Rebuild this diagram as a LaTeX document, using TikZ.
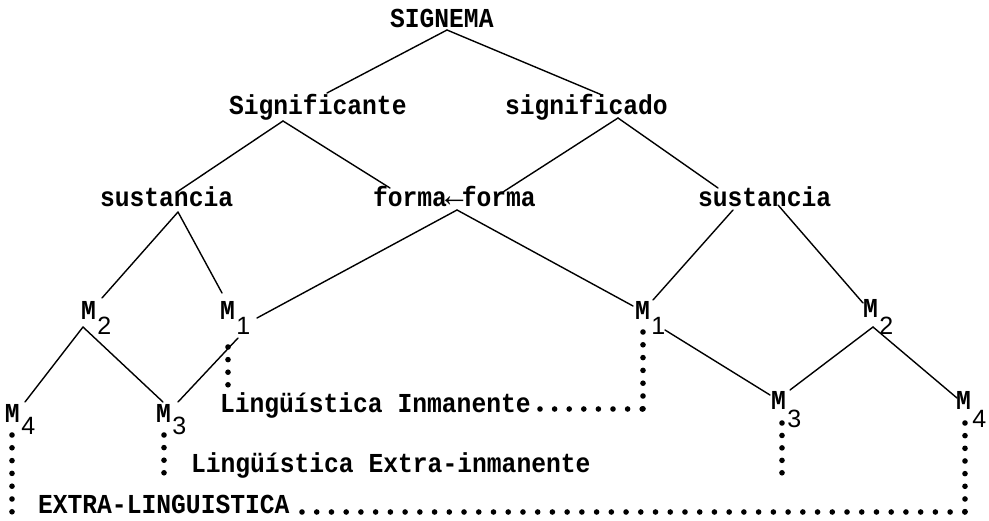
\documentclass[tikz,border=0pt]{standalone}
\usepackage{fontspec}
\newfontfamily\twfont{Liberation Mono}[FakeStretch=0.9]
\newfontfamily\digfont{Liberation Sans}
\usetikzlibrary{calc}

% an M followed by a lowered index digit, typewriter fashion
\newcommand\msub[2]{M\kern1.5pt\raisebox{-#2pt}{\digfont\mdseries\fontsize{25}{28}\selectfont #1}}
% the struck-over arrow between the two "forma"
\newcommand\overarrow{\makebox[14.8pt]{\fontsize{34}{34}\selectfont ←}}

\tikzset{
  txt/.style={font=\twfont\bfseries\fontsize{27.4}{30}\selectfont,
              inner sep=0pt, outer sep=0pt, anchor=base west},
  branch/.style={line width=1.4pt, line cap=round},
  typedots/.style={line width=5.6pt, line cap=round, dash pattern=on 0pt off #1},
}

\begin{document}
\begin{tikzpicture}[x=1pt,y=-1pt]
\fill[white] (0,0) rectangle (989,521);
\useasboundingbox (0,0) rectangle (989,521);

% ---- labels ----
\node[txt] (signema)  at (390,28)  {SIGNEMA};
\node[txt] (signifte) at (229,115) {Significante};
\node[txt] (signifdo) at (505,115) {significado};
\node[txt] (sustL)    at (100,207) {sustancia};
\node[txt] (forma)    at (373,207) {forma\overarrow forma};
\node[txt] (sustR)    at (698,207) {sustancia};

\node[txt] (m2L) at (81,320)  {\msub{2}{15}};
\node[txt] (m1L) at (220,320) {\msub{1}{15}};
\node[txt] (m1R) at (635,320) {\msub{1}{15}};
\node[txt] (m2R) at (863,318) {\msub{2}{17}};
\node[txt] (m4L) at (5,423)   {\msub{4}{12}};
\node[txt] (m3L) at (156,423) {\msub{3}{12}};
\node[txt] (m3R) at (771,410) {\msub{3}{18}};
\node[txt] (m4R) at (956,410) {\msub{4}{18}};

\node[txt] (inman)   at (220,413) {Lingüística Inmanente};
\node[txt] (extra)   at (191,472) {Lingüística Extra-inmanente};
\node[txt] (extling) at (38,513)  {EXTRA-LINGUISTICA};

% ---- tree branches ----
\draw[branch] ($(signema.base west)+(57,2)$) -- ($(signifte.base west)+(98,-22)$);
\draw[branch] ($(signema.base west)+(57,2)$) -- ($(signifdo.base west)+(97,-20)$);

\draw[branch] ($(signifte.base west)+(54,6)$) -- ($(sustL.base west)+(77,-15)$);
\draw[branch] ($(signifte.base west)+(54,6)$) -- ($(forma.base west)+(17,-19)$);

\draw[branch] ($(signifdo.base west)+(113,3)$) -- ($(forma.base west)+(130,-15)$);
\draw[branch] ($(signifdo.base west)+(113,3)$) -- ($(sustR.base west)+(20,-19)$);

\draw[branch] ($(sustL.base west)+(78,5)$) -- ($(m2L.base west)+(21,-22)$);
\draw[branch] ($(sustL.base west)+(78,5)$) -- ($(m1L.base west)+(2,-27)$);

\draw[branch] ($(forma.base west)+(84,3)$) -- ($(m1L.base west)+(37,-2)$);
\draw[branch] ($(forma.base west)+(84,3)$) -- ($(m1R.base west)+(-2,-14)$);

\draw[branch] ($(sustR.base west)+(35,3)$) -- ($(m1R.base west)+(18,-20)$);
\draw[branch] ($(sustR.base west)+(80,-2)$) -- ($(m2R.base west)+(0,-15)$);

\draw[branch] ($(m2L.base west)+(2,7)$) -- ($(m4L.base west)+(20,-21)$);
\draw[branch] ($(m2L.base west)+(2,7)$) -- ($(m3L.base west)+(7,-21)$);
\draw[branch] ($(m3L.base west)+(22,-21)$) -- ($(m1L.base west)+(18,18)$);

\draw[branch] ($(m1R.base west)+(30,10)$) -- ($(m3R.base west)+(-1,-15)$);
\draw[branch] ($(m2R.base west)+(10,9)$) -- ($(m3R.base west)+(19,-20)$);
\draw[branch] ($(m2R.base west)+(10,9)$) -- ($(m4R.base west)+(1,-12)$);

% ---- typed dot lines ----
\coordinate (cInm) at ($(m1R.base west)+(8,89)$);
\coordinate (cExt) at ($(m4R.base west)+(9,102)$);

\draw[typedots=12.6pt]  ($(m1L.base west)+(8,27)$) -- ($(inman.base west)+(8,-28)$);
\draw[typedots=12.8pt]  ($(m1R.base west)+(8,12)$) -- (cInm);
\draw[typedots=14.6pt]  ($(inman.base west)+(320,-4)$) -- (cInm);
\draw[typedots=12.6pt]  ($(m3L.base west)+(8,12)$) -- ($(m3L.base west)+(8,50)$);
\draw[typedots=12.45pt] ($(m3R.base west)+(11,13)$) -- ($(m3R.base west)+(11,63)$);
\draw[typedots=12.8pt]  ($(m4L.base west)+(7,12)$) -- ($(m4L.base west)+(7,89)$);
\draw[typedots=12.66pt] ($(m4R.base west)+(9,13)$) -- (cExt);
\draw[typedots=14.73pt] ($(extling.base west)+(264,-1)$) -- (cExt);
\end{tikzpicture}
\end{document}
